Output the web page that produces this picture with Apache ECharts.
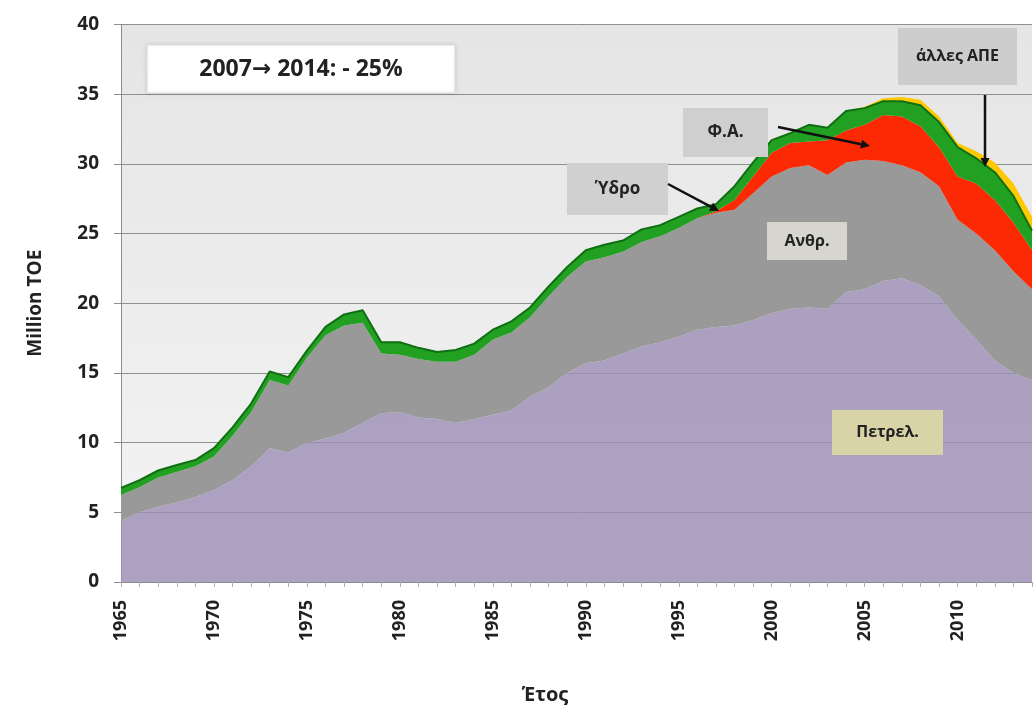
<!DOCTYPE html>
<html>
<head>
<meta charset="utf-8">
<script src="https://cdn.jsdelivr.net/npm/echarts@6/dist/echarts.min.js"></script>
<style>
  html, body { margin: 0; padding: 0; background: #fff; }
  #chart { width: 1036px; height: 715px; }
</style>
</head>
<body>
<div id="chart"></div>
<script>
// έτη
var years = ['1965','1966','1967','1968','1969','1970','1971','1972','1973','1974',
             '1975','1976','1977','1978','1979','1980','1981','1982','1983','1984',
             '1985','1986','1987','1988','1989','1990','1991','1992','1993','1994',
             '1995','1996','1997','1998','1999','2000','2001','2002','2003','2004',
             '2005','2006','2007','2008','2009','2010','2011','2012','2013','2014'];

// Million TOE ανά καύσιμο (εκτίμηση από το γράφημα)
var oil = [4.4,5.0,5.4,5.7,6.1,6.6,7.3,8.3,9.6,9.3,
           10.0,10.3,10.7,11.4,12.1,12.2,11.8,11.7,11.4,11.7,
           12.0,12.3,13.3,14.0,15.0,15.7,15.9,16.4,16.9,17.2,
           17.6,18.1,18.3,18.4,18.8,19.3,19.6,19.7,19.6,20.8,
           21.0,21.6,21.8,21.3,20.5,18.8,17.4,15.9,15.0,14.5];
var lignite = [1.85,1.8,2.1,2.2,2.2,2.4,3.2,3.9,4.9,4.8,
               6.1,7.4,7.7,7.2,4.3,4.1,4.2,4.1,4.4,4.6,
               5.4,5.6,5.7,6.5,6.9,7.3,7.4,7.3,7.5,7.6,
               7.8,8.0,8.2,8.3,9.1,9.8,10.1,10.2,9.6,9.3,
               9.3,8.6,8.1,8.1,7.9,7.2,7.6,7.9,7.3,6.5];
var gas = [0,0,0,0,0,0,0,0,0,0,
           0,0,0,0,0,0,0,0,0,0,
           0,0,0,0,0,0,0,0,0,0,
           0,0,0.1,0.7,1.2,1.7,1.8,1.7,2.5,2.3,
           2.5,3.3,3.5,3.3,2.8,3.1,3.6,3.6,3.5,2.8];
var hydro = [0.5,0.5,0.5,0.5,0.45,0.6,0.6,0.6,0.6,0.6,
             0.5,0.6,0.8,0.9,0.8,0.9,0.8,0.7,0.85,0.8,
             0.7,0.8,0.7,0.7,0.7,0.8,0.9,0.8,0.9,0.8,
             0.8,0.7,0.5,1.0,1.0,0.9,0.7,1.2,0.9,1.4,
             1.2,1.0,1.1,1.5,1.8,2.1,1.8,2.0,1.9,1.4];
var otherRes = [0,0,0,0,0,0,0,0,0,0,
                0,0,0,0,0,0,0,0,0,0,
                0,0,0,0,0,0,0,0,0,0,
                0,0,0,0,0,0,0,0,0,0,
                0.1,0.2,0.3,0.4,0.4,0.3,0.5,0.7,0.9,1.0];

var yTicks = { min: 0, max: 40, interval: 5 };

var font = '"Open Sans", "DejaVu Sans", sans-serif';
var TOP = 100;

function areaSeries(name, data, color, opacity, line) {
    return {
        name: name,
        type: 'line',
        stack: 'total',
        data: data,
        symbol: 'none',
        smooth: false,
        lineStyle: line || { width: 0 },
        areaStyle: { color: color, opacity: opacity },
        emphasis: { disabled: true }
    };
}

// κουτί με κείμενο για τις ετικέτες
function labelBox(x, y, w, h, fill, text, size) {
    return [
        { type: 'rect', z: TOP, shape: { x: x, y: y, width: w, height: h },
          style: { fill: fill } },
        { type: 'text', z: TOP + 1, x: x + w / 2, y: y + h / 2,
          style: { text: text, fill: '#222', font: 'bold ' + size + 'px ' + font,
                   align: 'center', verticalAlign: 'middle' } }
    ];
}

function arrow(x1, y1, x2, y2) {
    var ang = Math.atan2(y2 - y1, x2 - x1), L = 9, W = 4.5;
    var bx = x2 - L * Math.cos(ang), by = y2 - L * Math.sin(ang);
    var px = -Math.sin(ang) * W, py = Math.cos(ang) * W;
    return [
        { type: 'line', z: TOP, shape: { x1: x1, y1: y1, x2: bx, y2: by },
          style: { stroke: '#111', lineWidth: 2.5 } },
        { type: 'polygon', z: TOP, shape: { points: [[x2, y2], [bx + px, by + py], [bx - px, by - py]] },
          style: { fill: '#111' } }
    ];
}

var graphics = [
    { type: 'rect', z: TOP, shape: { x: 147, y: 45, width: 308, height: 48 },
      style: { fill: '#ffffff', stroke: '#dddddd', lineWidth: 1,
               shadowBlur: 4, shadowColor: 'rgba(0,0,0,0.12)' } },
    { type: 'text', z: TOP + 1, x: 301, y: 69,
      style: { text: '2007\u2192 2014: - 25%', fill: '#222',
               font: 'bold 23px ' + font, align: 'center', verticalAlign: 'middle' } },
    { type: 'text', z: TOP, x: 545, y: 695,
      style: { text: 'Έτος', fill: '#222', font: 'bold 20px ' + font,
               align: 'center', verticalAlign: 'middle' } }
].concat(
    labelBox(898, 28, 119, 57, '#cdcdcd', 'άλλες ΑΠΕ', 16),
    labelBox(683, 108, 85, 49, '#cfcfcf', 'Φ.Α.', 17),
    labelBox(567, 163, 101, 52, '#d0d0d0', 'Ύδρο', 17),
    labelBox(767, 222, 80, 38, '#d6d6cf', 'Ανθρ.', 16),
    labelBox(832, 410, 111, 45, '#d9d3a8', 'Πετρελ.', 16),
    arrow(985, 95, 985, 167),
    arrow(778, 127, 870, 146),
    arrow(668, 184, 719, 211)
);

var chart = echarts.init(document.getElementById('chart'));

var option = {
    animation: false,
    backgroundColor: '#ffffff',
    grid: {
        left: 121, right: 4, top: 24.5, bottom: 133,
        show: true, borderWidth: 0,
        backgroundColor: {
            type: 'linear', x: 0, y: 0, x2: 0, y2: 1,
            colorStops: [{ offset: 0, color: '#e5e5e5' }, { offset: 1, color: '#f4f4f4' }]
        }
    },
    xAxis: {
        type: 'category',
        data: years,
        boundaryGap: false,
        axisLine: { lineStyle: { color: '#8c8c8c', width: 1 } },
        axisTick: { interval: 0, length: 5, lineStyle: { color: '#b0b0b0' } },
        axisLabel: {
            interval: 4, rotate: 90, margin: 18,
            color: '#222', fontFamily: font, fontWeight: 'bold', fontSize: 18
        },
        splitLine: { show: false }
    },
    yAxis: {
        type: 'value',
        min: yTicks.min, max: yTicks.max, interval: yTicks.interval,
        name: 'Million TOE',
        nameLocation: 'middle',
        nameGap: 76,
        nameTextStyle: { color: '#222', fontFamily: font, fontWeight: 'bold', fontSize: 19 },
        axisLine: { show: true, lineStyle: { color: '#8c8c8c' } },
        axisTick: { show: true, length: 7, lineStyle: { color: '#8c8c8c' } },
        axisLabel: { margin: 22, color: '#222', fontFamily: font, fontWeight: 'bold', fontSize: 19 },
        splitLine: { lineStyle: { color: '#8f8f8f', width: 1 } }
    },
    series: [
        areaSeries('Πετρελ.', oil, '#9e8fb7', 0.82),
        areaSeries('Ανθρ.', lignite, '#999999', 1),
        areaSeries('Φ.Α.', gas, '#fb2a05', 1),
        areaSeries('Ύδρο', hydro, '#22a022', 1, { width: 2, color: '#0f6f12' }),
        areaSeries('άλλες ΑΠΕ', otherRes, '#ffc800', 1)
    ],
    graphic: { elements: graphics }
};

chart.setOption(option);
</script>
</body>
</html>
